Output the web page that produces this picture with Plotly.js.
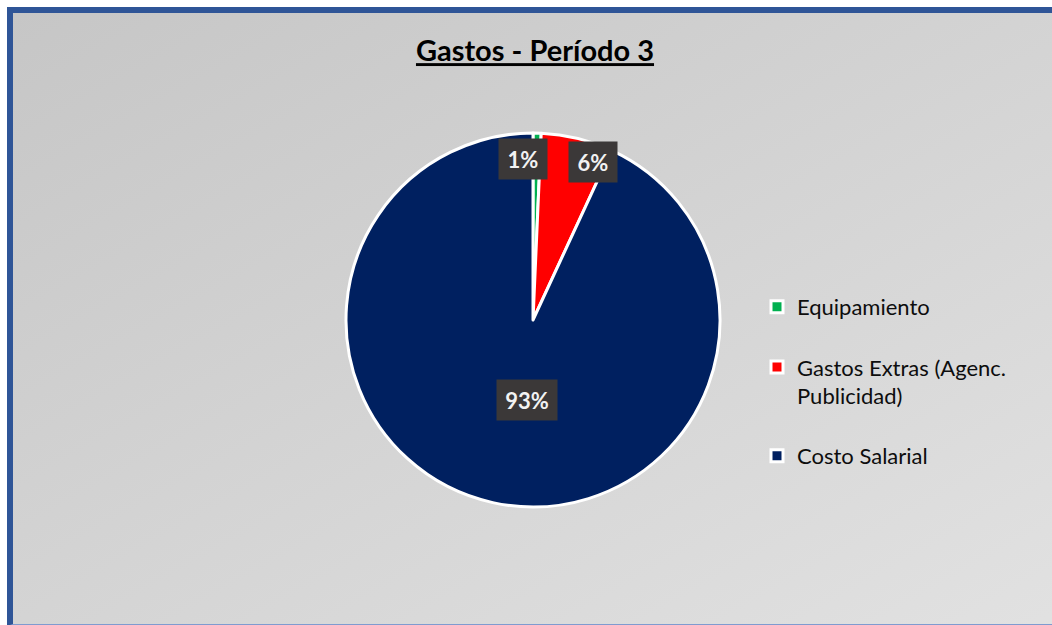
<!DOCTYPE html>
<html>
<head>
<meta charset="utf-8">
<script src="https://cdn.plot.ly/plotly-3.0.1.min.js"></script>
<style>
  html, body { margin:0; padding:0; background:#ffffff; width:1052px; height:625px; overflow:hidden; }
  #frame { position:absolute; left:7px; top:7px; width:1100px; height:611px;
           border-left:6px solid #2F5597; border-top:6px solid #2F5597; border-bottom:2px solid #7F9BD0;
           background: linear-gradient(to bottom right, #c6c6c6 0%, #d4d4d4 50%, #e2e2e2 100%); }
  #chart { position:absolute; left:0; top:0; width:1052px; height:625px; }
</style>
</head>
<body>
<div id="frame"></div>
<div id="chart"></div>
<script>
// ---- data ----
var categories = ["Equipamiento", "Gastos Extras (Agenc.<br>Publicidad)", "Costo Salarial"];
var values = [0.7, 6.2, 93.1];
var percentLabels = ["1%", "6%", "93%"];
var colors = ["#00B050", "#FF0000", "#002060"];
var chartTitle = "Gastos - Período 3";

// legend spacing (blank lines after an entry, layout only)
var legendPadLines = [1, 1, 0];

// ---- geometry ----
var W = 1052, H = 625;
var cx = 533, cy = 320, R = 187;
var dom = {
  x: [(cx - R) / W, (cx + R) / W],
  y: [(H - cy - R) / H, (H - cy + R) / H]
};

// label placement derived from slice angles
var total = values.reduce(function(a, b){ return a + b; }, 0);
var labelRad = [0.86, 0.90, 0.44];
var labelShift = [[-14, 0], [20, -6], [12, 0]];
var annotations = [];
var cum = 0;
for (var i = 0; i < values.length; i++) {
  var mid = (cum + values[i] / 2) / total * 2 * Math.PI;
  cum += values[i];
  var r = R * labelRad[i];
  var px = cx + r * Math.sin(mid);
  var py = cy - r * Math.cos(mid);
  annotations.push({
    xref: 'paper', yref: 'paper',
    x: px / W, y: 1 - py / H,
    xanchor: 'center', yanchor: 'middle',
    xshift: labelShift[i][0], yshift: labelShift[i][1],
    text: '<b>' + percentLabels[i] + '</b>',
    showarrow: false,
    font: { family: 'Lato, "Open Sans", sans-serif', size: 22, color: '#F2F2F2' },
    bgcolor: '#3B3838',
    width: percentLabels[i].length > 2 ? 60 : 48,
    height: 40,
    borderpad: 0
  });
}

var legendLabels = categories.map(function(c, i) {
  var s = c;
  for (var k = 0; k < legendPadLines[i]; k++) s += '<br>\u00a0';
  return s;
});

var trace = {
  type: 'pie',
  labels: legendLabels,
  values: values,
  sort: false,
  direction: 'clockwise',
  rotation: 0,
  marker: { colors: colors, line: { color: '#FFFFFF', width: 3 } },
  textinfo: 'none',
  textposition: 'none',
  hoverinfo: 'percent',
  domain: dom
};

var layout = {
  width: W, height: H,
  margin: { l: 0, r: 0, t: 0, b: 0 },
  paper_bgcolor: 'rgba(0,0,0,0)',
  plot_bgcolor: 'rgba(0,0,0,0)',
  showlegend: true,
  title: {
    text: '<b><u>' + chartTitle + '</u></b>',
    font: { family: 'Lato, "Open Sans", sans-serif', size: 29, color: '#000000' },
    x: 535 / W, xanchor: 'center', xref: 'paper',
    y: 1 - 51 / H, yanchor: 'middle', yref: 'paper'
  },
  legend: {
    x: 757 / W, xanchor: 'left',
    y: 1 - 286 / H, yanchor: 'top',
    valign: 'top',
    font: { family: 'Lato, "Open Sans", sans-serif', size: 22, color: '#0D0D0D' },
    bgcolor: 'rgba(0,0,0,0)',
    itemwidth: 30,
    tracegroupgap: 0
  },
  annotations: annotations
};

Plotly.newPlot('chart', [trace], layout, { displayModeBar: false, staticPlot: true });
</script>
</body>
</html>
